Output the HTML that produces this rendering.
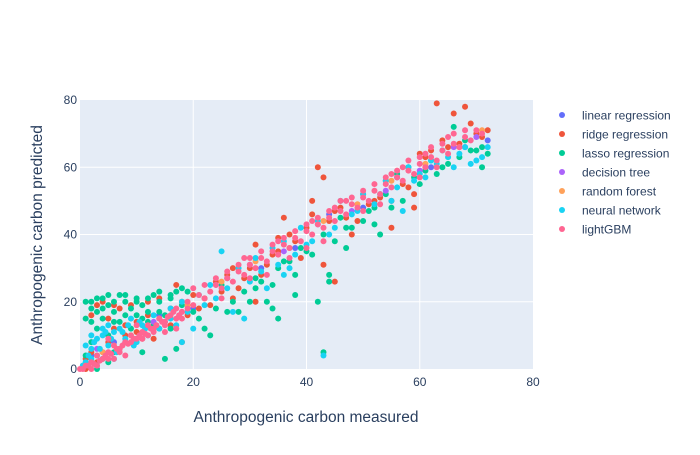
<!DOCTYPE html>
<html><head><meta charset="utf-8"><style>
body{margin:0;background:#fff;}
text{font-family:"Liberation Sans",sans-serif;fill:#2a3f5f;}
</style></head><body>
<svg id="chart" width="700" height="450">
<rect x="0" y="0" width="700" height="450" fill="#fff"/>
<rect x="80" y="100" width="453" height="269" fill="#E5ECF6"/>
<g id="grid"></g><g id="ticks"></g><g id="marks"></g><g id="legend"></g>
<text x="306" y="422" text-anchor="middle" font-size="15.5">Anthropogenic carbon measured</text>
<text transform="translate(42,235) rotate(-90)" text-anchor="middle" font-size="15.5">Anthropogenic carbon predicted</text>
</svg>
<script>
const xTicks=[0,20,40,60,80];
const yTicks=[0,20,40,60,80];
const seriesNames=["linear regression","ridge regression","lasso regression","decision tree","random forest","neural network","lightGBM"];
const seriesColors=["#636efa","#EF553B","#00cc96","#ab63fa","#FFA15A","#19d3f3","#FF6692"];
const linX=[2,6,10,14,20,26,32,38,44,50,56,62,68,72];
const linY=[4,8,9,16,18,27,30,36,46,48,57,60,66,68];
const ridgeX=[2,4,5,6,8,10,12,14,16,18,20,22,24,26,28,30,32,34,36,38,40,42,44,46,48,50,52,54,56,58,60,62,64,66,68,70,72,63,59,55,47,43,35,31,27,23,19,15,11,7,3,1,45,41,51,61,
1,2,3,4,5,6,7,8,9,10,12,13,14,16,17,18,21,25,29,33,37,39,41,45,49,53,57,61,65,67,69,71,55,59,43,35,31,27];
const ridgeY=[5,20,8,19,10,14,16,12,18,20,22,21,26,28,24,30,28,34,45,38,42,60,44,48,40,52,50,56,58,54,64,65,68,76,78,70,71,79,48,42,45,57,35,37,21,19,16,14,9,6,2,0,26,50,49,60,
3,16,19,5,15,12,18,13,19,11,20,9,21,13,25,8,18,23,27,31,40,33,46,47,44,51,55,63,66,67,73,69,50,52,31,39,20,30];
const lassoX=[1,2,3,4,5,6,7,8,9,10,11,12,13,14,15,16,17,18,2,3,5,7,9,11,13,4,6,1,3,19,20,22,24,26,28,30,32,34,35,36,38,40,42,44,45,46,48,50,52,54,56,58,60,62,64,66,68,70,72,71,63,57,53,47,41,37,33,31,29,43,21,25,
1,2,3,4,5,6,8,10,12,14,16,18,2,4,6,8,10,12,14,16,17,15,11,1,5,23,27,31,35,39,43,47,51,55,59,61,65,67,69,71,52,38,34,44];
const lassoY=[15,20,21,18,19,17,22,20,18,21,19,17,22,20,16,21,23,19,8,12,10,14,12,15,13,3,5,1,0,23,17,12,18,17,17,20,26,25,15,32,22,35,20,28,38,45,42,44,48,52,58,60,55,62,60,72,68,65,64,60,58,50,40,36,34,32,20,27,23,5,15,25,
20,18,17,21,22,20,22,20,21,23,22,24,14,15,14,16,16,14,17,12,6,3,5,4,2,10,20,24,30,36,40,42,47,48,57,59,61,63,65,66,43,28,18,26];
const treeX=[3,8,13,18,24,30,36,42,48,54,60,66,70];
const treeY=[6,8,14,17,25,31,35,43,47,53,59,66,69];
const forestX=[4,9,14,19,25,31,37,43,49,55,61,67,71];
const forestY=[5,10,15,19,26,32,36,44,49,56,61,66,71];
const nnX=[1,2,3,4,5,6,7,8,9,10,11,12,13,14,15,16,17,18,20,21,22,23,24,26,27,28,30,31,32,34,35,36,38,39,40,42,43,44,46,48,50,52,54,56,58,60,62,64,66,68,70,72,57,37,29,25,
0.5,1.5,2.5,3.5,4.5,5.5,6.5,7.5,8.5,9.5,10.5,11.5,1,2,3,4,5,6,2,3,16,18,19,33,36,41,45,49,53,55,59,61,63,65,67,69,71];
const nnY=[2,6,4,10,7,3,12,9,15,8,13,10,16,12,14,18,13,20,12,22,19,25,21,24,17,30,26,33,29,36,31,38,34,42,37,44,4,40,50,46,52,49,56,54,60,58,62,65,60,66,62,66,47,30,15,35,
1,4,8,6,11,9,5,11,13,7,14,12,7,10,9,12,13,11,3,1,15,8,17,24,28,38,42,47,52,50,56,57,61,63,64,61,63];
const gbmX=[0,1,2,3,4,5,6,7,8,9,10,11,12,13,14,15,16,17,18,19,20,21,22,23,24,25,26,27,28,29,30,31,32,33,34,35,36,37,38,39,40,41,42,43,44,45,46,47,48,49,50,51,52,53,54,55,56,57,58,59,60,61,62,63,64,65,66,67,68,69,70,71,5,10,15,20,25,30,35,40,45,50,55,60,65,17,8,2,6,12,18,
0.5,1.5,2.5,3.5,4.5,5.5,6.5,7.5,8.5,9.5,10.5,11.5,12.5,13.5,14.5,15.5,16.5,17.5,3,5,7,9,11,13,15,17,19,22,24,26,28,30,32,34,36,38,40,42,44,46,48,50,52,54,56,58,60,62,64,66,68,29,33,37,41,43,47,53,57,61,63];
const gbmY=[0,1,2,4,3,5,7,6,8,10,9,11,13,12,15,14,16,18,17,20,19,22,21,23,25,24,27,26,29,28,31,30,33,32,35,34,37,36,39,38,41,40,43,42,45,44,47,46,49,48,51,50,53,52,55,54,57,56,59,58,61,60,63,62,65,64,67,66,69,68,71,70,9,13,11,24,21,27,38,36,48,47,58,57,69,12,4,0,3,10,15,
0,1,1.5,2.5,4,4.5,6,7,7.5,9,10,10.5,12,13,14,15.5,17,16,1,3,5,8,9,11,13,15,18,25,27,29,31,33,35,37,39,41,43,45,47,50,51,53,55,57,59,62,63,66,67,70,71,33,28,33,44,38,50,49,60,64,60];
const seriesX=[linX,ridgeX,lassoX,treeX,forestX,nnX,gbmX];
const seriesY=[linY,ridgeY,lassoY,treeY,forestY,nnY,gbmY];
const NS="http://www.w3.org/2000/svg";
const sx=v=>80+v*(453/80);
const sy=v=>369-v*(269/80);
const grid=document.getElementById('grid'),ticks=document.getElementById('ticks'),marks=document.getElementById('marks'),legend=document.getElementById('legend');
function mk(t,a){const e=document.createElementNS(NS,t);for(const k in a)e.setAttribute(k,a[k]);return e;}
xTicks.forEach(t=>{
  if(t>0&&t<80){const l=mk('line',{x1:sx(t),x2:sx(t),y1:100,y2:369,stroke:'#fff','stroke-width':1});
  
  grid.appendChild(l);}
  const tx=mk('text',{x:sx(t),y:386,'text-anchor':'middle','font-size':12});tx.textContent=t;
  
  ticks.appendChild(tx);
});
yTicks.forEach(t=>{
  if(t>0&&t<80){const l=mk('line',{x1:80,x2:533,y1:sy(t),y2:sy(t),stroke:'#fff','stroke-width':1});
  
  grid.appendChild(l);}
  const tx=mk('text',{x:77,y:sy(t)+4,'text-anchor':'end','font-size':12});tx.textContent=t;
  
  ticks.appendChild(tx);
});
seriesNames.forEach((n,i)=>{
  const g=mk('g',{});
  
  
  seriesX[i].forEach((xv,j)=>{
    const c=mk('circle',{cx:sx(xv),cy:sy(seriesY[i][j]),r:3,fill:seriesColors[i]});
    
    
    g.appendChild(c);
  });
  marks.appendChild(g);
  const le=mk('g',{});
  
  
  const y=115+i*19;
  le.appendChild(mk('circle',{cx:562,cy:y,r:3,fill:seriesColors[i]}));
  const t=mk('text',{x:582,y:y+4.5,'font-size':12});t.textContent=n;le.appendChild(t);
  legend.appendChild(le);
});
</script>
</body></html>
